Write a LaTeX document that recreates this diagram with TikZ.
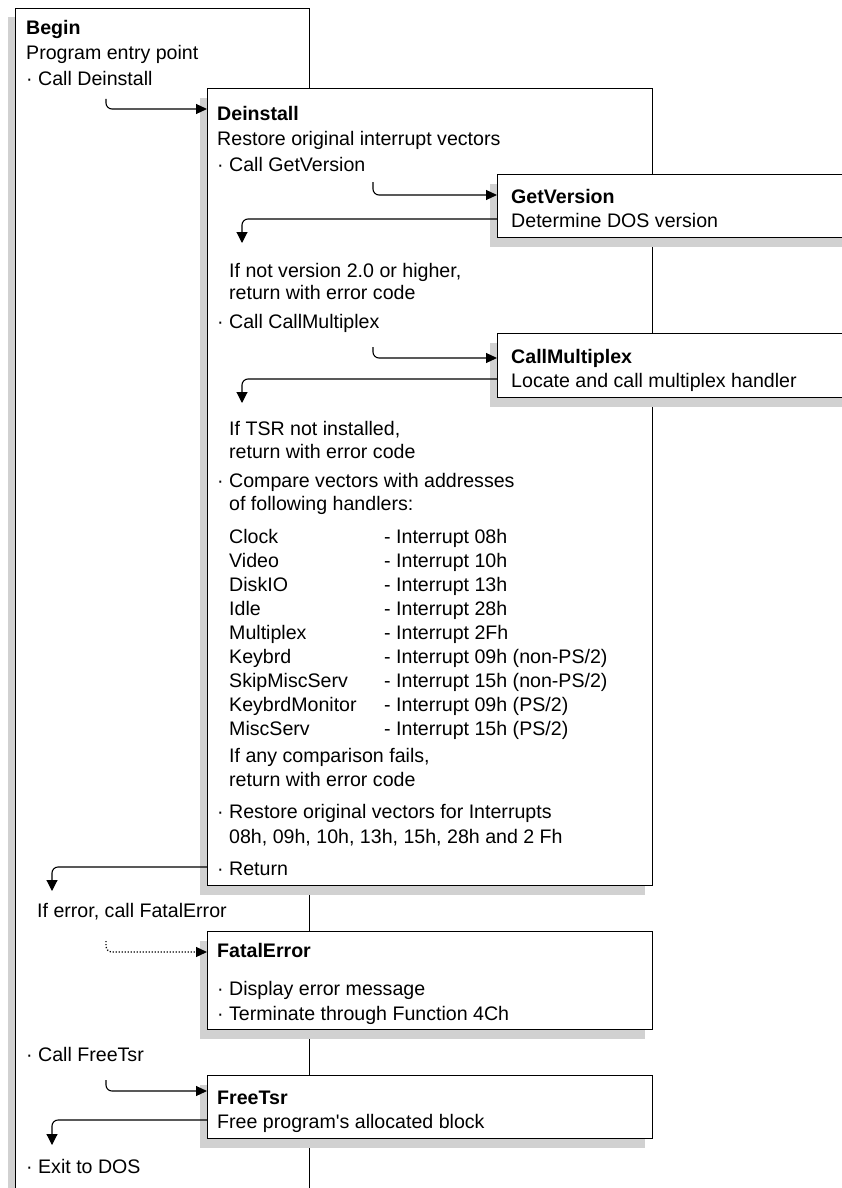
\documentclass[tikz,border=0pt]{standalone}
\usepackage{fontspec}
\newfontfamily\dosfont{Liberation Sans}
\usetikzlibrary{arrows.meta,calc,shadows}

\begin{document}
\begin{tikzpicture}[x=1pt,y=-1pt,
  font=\dosfont\fontsize{19.6pt}{24pt}\selectfont,
  box/.style={draw,line width=1.3pt,fill=white,anchor=north west,inner sep=0pt,
    drop shadow={shadow xshift=-8pt,shadow yshift=-9pt,fill=black!18,opacity=1}},
  txt/.style={anchor=base west,inner sep=0pt},
  title/.style={txt,font=\dosfont\fontsize{19.6pt}{24pt}\selectfont\bfseries},
  callarrow/.style={-{Triangle[length=11pt,width=10pt]},line width=1.1pt,rounded corners=6pt},
  retarrow/.style={callarrow,-{Triangle[length=11pt,width=11pt]}}]
\useasboundingbox (0,0) rectangle (842,1188);
\clip (0,0) rectangle (842,1188);

% boxes
\node[box,line width=1pt,minimum width=294pt,minimum height=1250pt] (bg) at (15,8) {};
\node[box,minimum width=445pt,minimum height=797pt] (de) at (207,88) {};
\node[box,minimum width=360pt,minimum height=63pt] (gv) at (497,174) {};
\node[box,minimum width=360pt,minimum height=64pt] (cm) at (497,333) {};
\node[box,minimum width=445pt,minimum height=98pt] (fe) at (207,931) {};
\node[box,minimum width=445pt,minimum height=63pt] (ft) at (207,1075) {};

% Begin
\node[title] (bgT) at (26,35) {Begin};
\node[txt] (bg1) at (26,60) {Program entry point};
\node[txt] (bg2) at (26,86) {· Call Deinstall};
\node[txt] (bg3) at (37,917) {If error, call FatalError};
\node[txt] (bg4) at (26,1061) {· Call FreeTsr};
\node[txt] (bg5) at (26,1173) {· Exit to DOS};

% Deinstall
\node[title] (deT) at (217,121) {Deinstall};
\node[txt] (de1) at (217,146) {Restore original interrupt vectors};
\node[txt] (de2) at (217,171) {· Call GetVersion};
\node[txt] (de3) at (229,277) {If not version 2.0 or higher,};
\node[txt] (de4) at (229,299) {return with error code};
\node[txt] (de5) at (217,328) {· Call CallMultiplex};
\node[txt] (de6) at (229,435) {If TSR not installed,};
\node[txt] (de7) at (229,458) {return with error code};
\node[txt] (de8) at (217,487) {· Compare vectors with addresses};
\node[txt] (de9) at (229,510) {of following handlers:};
\foreach \y/\h/\n in {543/Clock/08h,567/Video/10h,591/DiskIO/13h,615/Idle/28h,
  639/Multiplex/2Fh,663/Keybrd/{09h (non-PS/2)},687/SkipMiscServ/{15h (non-PS/2)},
  711/KeybrdMonitor/{09h (PS/2)},735/MiscServ/{15h (PS/2)}}{
  \node[txt] (h\h) at (229,\y) {\h};
  \node[txt] (i\h) at (384,\y) {- Interrupt \n};
}
\node[txt] (de10) at (229,762) {If any comparison fails,};
\node[txt] (de11) at (229,786) {return with error code};
\node[txt] (de12) at (217,818) {· Restore original vectors for Interrupts};
\node[txt] (de13) at (229,843) {08h, 09h, 10h, 13h, 15h, 28h and 2 Fh};
\node[txt] (de14) at (217,875) {· Return};

% called routines
\node[title] (gvT) at (511,203) {GetVersion};
\node[txt] (gv1) at (511,227) {Determine DOS version};
\node[title] (cmT) at (511,363) {CallMultiplex};
\node[txt] (cm1) at (511,387) {Locate and call multiplex handler};
\node[title] (feT) at (217,957) {FatalError};
\node[txt] (fe1) at (217,995) {· Display error message};
\node[txt] (fe2) at (217,1020) {· Terminate through Function 4Ch};
\node[title] (ftT) at (217,1104) {FreeTsr};
\node[txt] (ft1) at (217,1128) {Free program's allocated block};

% calls and returns
\coordinate (cBg) at (106,99);
\draw[callarrow] (cBg) |- ($(de.north west)+(0,21)$);
\coordinate (cDe) at (373,182);
\draw[callarrow] (cDe) |- ($(gv.north west)+(0,21)$);
\coordinate (rGv) at (242,243);
\draw[retarrow] ($(gv.north west)+(0,45)$) -| (rGv);
\coordinate (cDe2) at (373,347);
\draw[callarrow] (cDe2) |- ($(cm.north west)+(0,25)$);
\coordinate (rCm) at (242,403);
\draw[retarrow] ($(cm.north west)+(0,46)$) -| (rCm);
\coordinate (rDe) at (52,891);
\draw[retarrow] ($(de.north west)+(0,779)$) -| (rDe);
\coordinate (cFe) at (106,941);
\draw[callarrow,line width=1.3pt,dash pattern=on 1.2pt off 1.8pt] (cFe) |- ($(fe.north west)+(0,21)$);
\coordinate (cFt) at (106,1080);
\draw[callarrow] (cFt) |- ($(ft.north west)+(0,16)$);
\coordinate (rFt) at (52,1145);
\draw[retarrow] ($(ft.north west)+(0,45)$) -| (rFt);
\end{tikzpicture}
\end{document}
